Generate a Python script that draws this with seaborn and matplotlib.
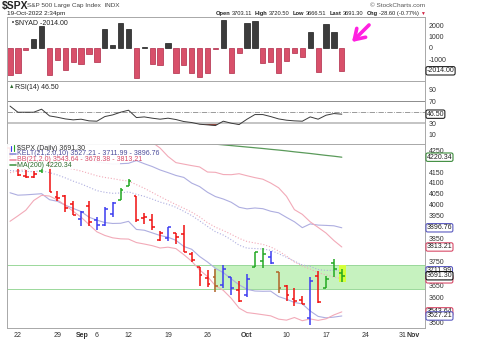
import numpy as np
import pandas as pd
import seaborn as sns
import matplotlib.pyplot as plt
from matplotlib.patches import Rectangle
from matplotlib.ticker import FixedLocator, NullLocator
from matplotlib.transforms import blended_transform_factory

sns.set_style("white")
plt.rcParams['font.family'] = ['Liberation Sans', 'DejaVu Sans']

# ---- data (19-Aug-2022 .. 19-Oct-2022, daily) ----
opens = [4266.31, 4195.08, 4133.09, 4126.55, 4153.26, 4198.74, 4034.58, 4041.25, 4000.67, 3936.73,
         3994.66, 3930.89, 3909.43, 3959.94, 4022.94, 4083.67, 4037.12, 3940.73, 3932.41, 3845.00,
         3849.91, 3875.23, 3871.40, 3782.36, 3727.14, 3682.72, 3686.44, 3651.94, 3687.01, 3633.48,
         3609.78, 3726.46, 3753.25, 3771.97, 3706.74, 3647.51, 3595.86, 3590.83, 3520.37, 3690.41,
         3638.65, 3746.26, 3703.11]
highs = [4266.31, 4195.08, 4159.77, 4156.56, 4200.54, 4203.04, 4062.99, 4044.98, 4015.37, 3970.23,
         4018.43, 3942.55, 3987.89, 4010.50, 4076.81, 4119.28, 4037.12, 3961.94, 3959.14, 3880.95,
         3900.45, 3876.01, 3907.07, 3790.78, 3727.14, 3715.67, 3717.53, 3736.74, 3687.01, 3671.44,
         3698.35, 3791.92, 3806.91, 3797.93, 3706.74, 3652.17, 3640.66, 3608.34, 3685.41, 3712.00,
         3689.73, 3762.79, 3720.50]
lows = [4218.70, 4129.86, 4124.03, 4119.97, 4147.59, 4057.66, 4017.42, 3965.21, 3954.53, 3903.65,
        3906.21, 3886.75, 3906.03, 3944.81, 4022.94, 4083.67, 3921.97, 3912.01, 3888.28, 3837.08,
        3838.50, 3827.54, 3789.49, 3749.45, 3647.47, 3644.76, 3623.29, 3640.61, 3610.40, 3584.13,
        3604.93, 3726.46, 3722.66, 3739.22, 3620.73, 3588.10, 3568.45, 3573.86, 3491.58, 3579.68,
        3638.65, 3686.53, 3666.51]
closes = [4228.48, 4137.99, 4128.73, 4140.77, 4199.12, 4057.66, 4030.61, 3986.16, 3955.00, 3966.85,
          3924.26, 3908.19, 3979.87, 4006.18, 4067.36, 4110.41, 3932.69, 3946.01, 3901.35, 3873.33,
          3899.89, 3855.93, 3789.93, 3757.99, 3693.23, 3655.04, 3647.29, 3719.04, 3640.47, 3585.62,
          3678.43, 3790.93, 3783.28, 3744.52, 3639.66, 3612.39, 3588.84, 3577.03, 3669.91, 3583.07,
          3677.95, 3719.98, 3691.30]
bar_kind = ['r', 'r', 'r', 'r', 'g', 'r', 'r', 'r', 'r', 'b',
            'r', 'b', 'b', 'b', 'g', 'g', 'r', 'r', 'r', 'r',
            'b', 'r', 'r', 'r', 'r', 'r', 'o', 'b', 'b', 'r',
            'b', 'g', 'g', 'b', 'o', 'r', 'r', 'r', 'b', 'r',
            'g', 'g', 'g']

kelt_up = [4260.1, 4267.8, 4261.4, 4256.7, 4262.6, 4272.0, 4258.0, 4248.1, 4232.5, 4220.7,
           4215.0, 4197.0, 4192.4, 4187.4, 4189.5, 4191.3, 4204.3, 4189.3, 4176.1, 4159.9,
           4147.4, 4134.2, 4125.0, 4098.5, 4082.5, 4056.3, 4036.7, 4025.5, 4010.9, 3988.2,
           3981.0, 3984.9, 3981.8, 3970.3, 3963.4, 3942.8, 3923.4, 3897.3, 3913.9, 3908.7,
           3907.3, 3905.5, 3896.8]
kelt_mid = [4157.1, 4155.4, 4153.0, 4151.9, 4156.2, 4147.2, 4136.6, 4122.9, 4107.7, 4094.9,
            4079.4, 4063.8, 4056.2, 4051.6, 4053.1, 4058.3, 4046.9, 4037.7, 4025.3, 4011.5,
            4001.4, 3988.2, 3970.2, 3950.9, 3927.5, 3902.7, 3879.5, 3864.9, 3844.5, 3821.0,
            3808.0, 3806.5, 3804.4, 3798.9, 3784.4, 3768.8, 3752.4, 3736.5, 3730.5, 3717.1,
            3713.5, 3714.1, 3712.0]
kelt_lo = [4054.1, 4043.0, 4044.6, 4047.1, 4049.8, 4022.4, 4015.2, 3997.7, 3982.9, 3969.1,
           3943.8, 3930.6, 3920.0, 3915.8, 3916.7, 3925.3, 3889.5, 3886.1, 3874.5, 3863.1,
           3855.4, 3842.2, 3815.4, 3803.3, 3772.5, 3749.1, 3722.3, 3704.3, 3678.1, 3653.8,
           3635.0, 3628.1, 3627.0, 3627.5, 3605.4, 3594.8, 3581.4, 3575.7, 3547.1, 3525.5,
           3519.7, 3522.7, 3527.2]
bb_up = [4368.6, 4361.2, 4351.3, 4328.4, 4321.6, 4323.4, 4331.3, 4343.6, 4357.3, 4365.7,
         4376.5, 4386.2, 4386.5, 4386.0, 4376.8, 4368.6, 4350.7, 4323.5, 4292.1, 4264.0,
         4223.9, 4194.6, 4187.4, 4180.4, 4174.1, 4150.2, 4148.8, 4138.4, 4137.7, 4142.3,
         4132.8, 4124.0, 4116.7, 4098.9, 4077.0, 4037.8, 3977.5, 3956.4, 3923.0, 3898.5,
         3873.8, 3841.0, 3813.2]
bb_mid = [4147.0, 4155.4, 4163.1, 4173.6, 4181.9, 4181.2, 4176.5, 4170.2, 4163.7, 4154.7,
          4143.9, 4132.6, 4124.9, 4119.4, 4112.6, 4108.0, 4091.5, 4074.7, 4055.5, 4036.4,
          4018.1, 4000.4, 3983.8, 3966.2, 3944.9, 3919.0, 3899.4, 3884.6, 3868.1, 3850.5,
          3836.8, 3830.4, 3824.5, 3813.3, 3795.8, 3774.2, 3749.3, 3732.4, 3719.2, 3704.1,
          3694.8, 3686.2, 3678.4]
bb_lo = [3925.4, 3949.6, 3974.9, 4018.8, 4042.3, 4039.0, 4021.7, 3996.8, 3970.1, 3943.7,
         3911.3, 3879.0, 3863.3, 3852.8, 3848.4, 3847.4, 3832.3, 3825.9, 3818.9, 3808.8,
         3812.3, 3806.2, 3780.2, 3752.0, 3715.7, 3687.8, 3650.0, 3630.8, 3598.5, 3558.7,
         3540.8, 3536.8, 3532.3, 3527.7, 3514.6, 3510.6, 3521.1, 3508.4, 3515.4, 3509.7,
         3515.8, 3531.4, 3543.6]
ma200 = [4326.5, 4326.0, 4325.5, 4325.0, 4324.0, 4323.0, 4322.0, 4321.0, 4320.0, 4319.0,
         4317.5, 4316.0, 4314.5, 4313.0, 4311.5, 4310.0, 4308.0, 4306.0, 4304.0, 4302.0,
         4299.5, 4297.0, 4294.5, 4292.0, 4289.0, 4286.0, 4283.0, 4279.5, 4276.0, 4272.5,
         4269.0, 4265.5, 4262.0, 4258.0, 4254.5, 4250.5, 4246.0, 4242.0, 4238.0, 4233.5,
         4229.0, 4225.0, 4220.3]

nyad = [-2370, -2250, -180, 800, 1900, -2400, -1070, -1960, -1280, -1420,
        -530, -1280, 1690, 300, 2200, 1630, -2610, 120, -1420, -1510,
        470, -2250, -1480, -2170, -2550, -2200, -90, 2430, -2230, -470,
        2230, 2370, -1340, -1280, -2230, -1190, -470, -830, 1360, -2100,
        2140, 1360, -2014]

rsi = [61.0, 50.0, 50.0, 50.0, 55.4, 43.4, 41.0, 38.0, 36.3, 37.5,
       34.5, 33.9, 42.2, 45.2, 50.0, 53.6, 40.4, 41.6, 39.3, 37.5,
       39.3, 36.9, 33.3, 31.5, 28.5, 27.3, 26.1, 33.9, 30.3, 27.9,
       37.5, 45.8, 45.8, 42.2, 38.0, 35.7, 34.5, 33.9, 41.6, 37.5,
       44.6, 47.6, 46.5]

tick_pos = [1, 6, 9.2, 11, 15, 20, 25, 30, 35, 40, 45, 49.7, 51.0]
tick_lab = ['22', '29', 'Sep', '6', '12', '19', '26', 'Oct', '10', '17', '24', '31', 'Nov']
price_ticks = [3500, 3600, 3650, 3750, 3850, 3950, 4000, 4050, 4100, 4150, 4250]
zone_lo, zone_hi = 3638, 3736

# ---- layout ----
W, H = 480, 341
fig = plt.figure(figsize=(W / 100, H / 100), dpi=100)


def box(top, bot):
    return [7 / W, 1 - bot / H, 418 / W, (bot - top) / H]


ax1 = fig.add_axes(box(17, 81))
ax2 = fig.add_axes(box(81, 144))
ax3 = fig.add_axes(box(144, 328))
x = np.arange(len(closes))
FS = 5

for ax in (ax1, ax2, ax3):
    ax.set_xlim(-0.38, 52.53)
    for s in ax.spines.values():
        s.set_color('#a8a8a8')
        s.set_linewidth(0.7)
    ax.yaxis.tick_right()
    ax.tick_params(axis='y', length=0, pad=2.5, labelsize=FS, colors='#333333')
    ax.tick_params(axis='x', length=0)
    ax.set_xticks([])


def tag(ax, y, text, ec, fc='white', z=6):
    tr = blended_transform_factory(ax.transAxes, ax.transData)
    ax.text(1.004, y, text, transform=tr, fontsize=FS, va='center', ha='left', color='#222222',
            bbox=dict(boxstyle='round,pad=0.1,rounding_size=0.25', fc=fc, ec=ec, lw=0.8),
            clip_on=False, zorder=z)


# ---- $NYAD panel ----
nyad_a = np.array(nyad)
ax1.bar(x, nyad_a, width=0.66,
        color=np.where(nyad_a > 0, '#3c3c3c', '#d8506a'),
        edgecolor=np.where(nyad_a > 0, '#1c1c1c', '#b02a48'), linewidth=0.5)
ax1.set_ylim(-2912, 2725)
ax1.set_yticks([2000, 1000, 0, -1000])
ax1.set_yticklabels(['2000', '1000', '0', '-1000'])
ax1.bar([0.35], [300], bottom=[2160], width=0.35, color='#222222', transform=ax1.transData)
ax1.text(0.018, 0.955, '$NYAD -2014.00', transform=ax1.transAxes, fontsize=FS, va='top',
         color='#222222')
tag(ax1, -2014, '-2014.00', '#222222')

# ---- RSI panel ----
rsi_a = np.array(rsi)
ax2.axhline(70, color='#8c8c8c', lw=0.7)
ax2.axhline(30, color='#c4c4c4', lw=1.4)
ax2.axhline(50, color='#8a8a8a', lw=0.6, ls='-.')
ax2.fill_between(x, rsi_a, 30, where=rsi_a < 30, interpolate=True, color='#9a4a40', lw=0)
sns.lineplot(x=x, y=rsi_a, ax=ax2, color='#3a3a3a', lw=0.7)
ax2.set_ylim(-7, 106)
ax2.set_yticks([90, 70, 30, 10])
ax2.set_yticklabels(['90', '70', '30', '10'])
ax2.set_ylabel('')
ax2.text(0.005, 0.96, '▲', transform=ax2.transAxes, fontsize=4, va='top', color='#2e6b2e')
ax2.text(0.018, 0.96, 'RSI(14) 46.50', transform=ax2.transAxes, fontsize=FS, va='top',
         color='#222222')
tag(ax2, 46.5, '46.50', '#222222')

# ---- price panel ----
ax3.set_yscale('log')
ax3.set_ylim(3479.6, 4283.7)
ax3.yaxis.set_major_locator(FixedLocator(price_ticks))
ax3.yaxis.set_minor_locator(NullLocator())
ax3.set_yticklabels([str(v) for v in price_ticks])

for lvl in (zone_lo, zone_hi):
    ax3.axhline(lvl, color='#9ad89a', lw=0.7, zorder=1)
ax3.add_patch(Rectangle((25.85, zone_lo), 52.53 - 25.85, zone_hi - zone_lo,
                        facecolor='#c6f2bf', edgecolor='none', zorder=0.5))

bands = pd.DataFrame({'x': x, 'ku': kelt_up, 'km': kelt_mid, 'kl': kelt_lo,
                      'bu': bb_up, 'bm': bb_mid, 'bl': bb_lo, 'ma': ma200})
kc, bc = '#aeaee0', '#f2aab8'
sns.lineplot(data=bands, x='x', y='ku', ax=ax3, color=kc, lw=0.8)
sns.lineplot(data=bands, x='x', y='kl', ax=ax3, color=kc, lw=0.8)
sns.lineplot(data=bands, x='x', y='km', ax=ax3, color=kc, lw=0.8, ls=':')
sns.lineplot(data=bands, x='x', y='bu', ax=ax3, color=bc, lw=0.8)
sns.lineplot(data=bands, x='x', y='bl', ax=ax3, color=bc, lw=0.8)
sns.lineplot(data=bands, x='x', y='bm', ax=ax3, color=bc, lw=0.8, ls=':')
sns.lineplot(data=bands, x='x', y='ma', ax=ax3, color='#5a9a5a', lw=0.9)
ax3.set_xlabel('')
ax3.set_ylabel('')

ax3.add_patch(Rectangle((41.7, 3664), 0.8, 3736 - 3664, facecolor='#d4ff3a',
                        edgecolor='none', zorder=2))
cmap = {'r': '#f01010', 'g': '#22a822', 'b': '#3c3cf0', 'o': '#b06428'}
cols = [cmap[k] for k in bar_kind]
ax3.vlines(x, lows, highs, colors=cols, lw=1.1, zorder=3)
ax3.hlines(opens, x - 0.36, x, colors=cols, lw=1.1, zorder=3)
ax3.hlines(closes, x, x + 0.36, colors=cols, lw=1.1, zorder=3)

ax3.set_xticks(tick_pos)
ax3.set_xticklabels(tick_lab, fontsize=FS, color='#333333')
for t in ax3.get_xticklabels():
    if t.get_text() in ('Sep', 'Oct', 'Nov'):
        t.set_fontweight('bold')
ax3.tick_params(axis='x', length=1.5, pad=1.5, colors='#999999', labelcolor='#333333')

# legend block (white backing hides bars under it)
ax3.add_patch(Rectangle((0, 0.864), 0.27, 0.136, transform=ax3.transAxes,
                        facecolor='white', edgecolor='none', alpha=0.92, zorder=5))
leg = [('$SPX (Daily) 3691.30', '#333333', None),
       ('KELT(21,2.0,10) 3527.21 - 3711.99 - 3896.76', '#4a4a9a', '#8c8cd8'),
       ('BB(21,2.0) 3543.64 - 3678.38 - 3813.21', '#d84a68', '#f08aa0'),
       ('MA(200) 4220.34', '#2a6a2a', '#4a9a4a')]
for i, (txt, tc, lc) in enumerate(leg):
    yy = 1 - (4.3 + 5.6 * i) / 184
    if lc:
        ax3.plot([0.006, 0.022], [yy, yy], transform=ax3.transAxes, color=lc, lw=1.2, zorder=6)
    else:
        ax3.plot([0.009, 0.009], [yy - 0.015, yy + 0.015], transform=ax3.transAxes,
                 color='#3c3cf0', lw=0.8, zorder=6)
        ax3.plot([0.016, 0.016], [yy - 0.012, yy + 0.018], transform=ax3.transAxes,
                 color='#22a822', lw=0.8, zorder=6)
    ax3.text(0.025, yy, txt, transform=ax3.transAxes, fontsize=FS, va='center', color=tc,
             zorder=6)

tag(ax3, 4220.34, '4220.34', '#3a8a3a')
tag(ax3, 3896.76, '3896.76', '#5a5ac0')
tag(ax3, 3813.21, '3813.21', '#d84a68')
tag(ax3, 3543.64, '3543.64', '#d84a68')
tag(ax3, 3527.21, '3527.21', '#5a5ac0')
tag(ax3, 3678.38, '3678.38', '#d84a68')
tag(ax3, 3711.99, '3711.99', '#5a5ac0')
tag(ax3, 3691.30, '3691.30', '#111111', z=7)


# ---- header ----
def T(px, py, s, **kw):
    kw.setdefault('fontsize', FS)
    kw.setdefault('color', '#222222')
    kw.setdefault('ha', 'left')
    return fig.text(px / W, 1 - py / H, s, va='center', **kw)


T(2, 5.5, '$SPX', fontsize=7.5, fontweight='bold')
T(27, 5.5, 'S&P 500 Large Cap Index  INDX', color='#444444', fontsize=4.6)
T(425, 5.5, '© StockCharts.com', color='#555555', ha='right', fontsize=4.6)
T(7, 13.5, '19-Oct-2022 2:34pm', fontsize=4.6)
T(425, 13.5, '▼', color='#d02040', fontsize=3.5, ha='right')

# quote line laid out right-to-left, shrunk to the span seen in the chart
quote = [('Open', True), ('3703.11', False), ('High', True), ('3720.50', False),
         ('Low', True), ('3666.51', False), ('Last', True), ('3691.30', False),
         ('Chg', True), ('-28.60 (-0.77%)', False)]
renderer = fig.canvas.get_renderer()


def lay(fs):
    xr = 419
    made = []
    for s, b in reversed(quote):
        t = T(xr, 13.5, s, fontsize=fs, ha='right', fontweight='bold' if b else 'normal')
        w = t.get_window_extent(renderer).width
        made.append(t)
        xr -= w + (3.0 if b else 1.5)
    return xr, made


left, made = lay(4.6)
if left < 212:
    for t in made:
        t.remove()
    left, made = lay(4.6 * (419 - 212) / (419 - left))

# ---- magenta hand-drawn arrows ----
for tail, head in [((371, 23), (350, 44)), ((358, 242), (344, 260))]:
    ax1.annotate('', xy=(head[0], H - head[1]), xytext=(tail[0], H - tail[1]),
                 xycoords='figure pixels', textcoords='figure pixels',
                 arrowprops=dict(arrowstyle='->,head_width=0.45,head_length=0.7',
                                 color='#ff20e0', lw=2.6), annotation_clip=False)

fig.savefig('out.png', dpi=100)
